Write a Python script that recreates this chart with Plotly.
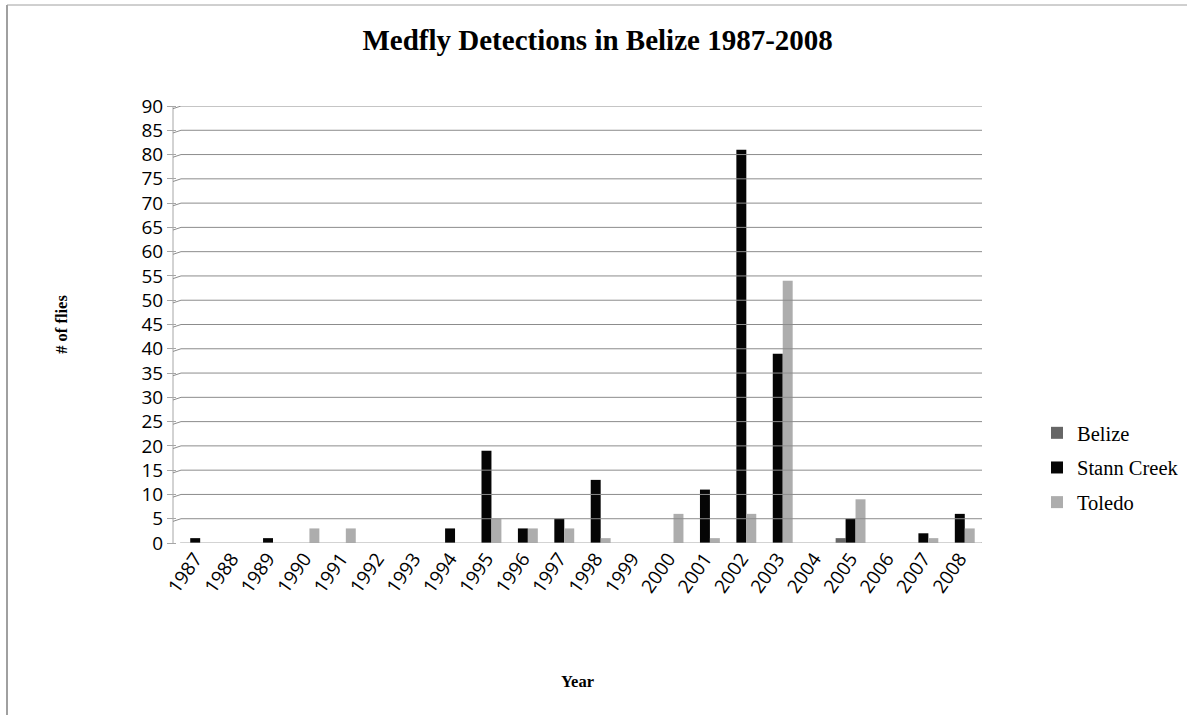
import plotly.graph_objects as go

years = [str(y) for y in range(1987, 2009)]
belize = [0, 0, 0, 0, 0, 0, 0, 0, 0, 0, 0, 0, 0, 0, 0, 0, 0, 0, 1, 0, 0, 0]
stann_creek = [1, 0, 1, 0, 0, 0, 0, 3, 19, 3, 5, 13, 0, 0, 11, 81, 39, 0, 5, 0, 2, 6]
toledo = [0, 0, 0, 3, 3, 0, 0, 0, 5, 3, 3, 1, 0, 6, 1, 6, 54, 0, 9, 0, 1, 3]
y_ticks = list(range(0, 95, 5))

W, H = 1187, 715
L, R, T, B = 177, 209, 106, 172
pw, ph = W - L - R, H - T - B

def px_x(px):
    return (px - L) / pw

def px_y(py):
    return (H - B - py) / ph

fig = go.Figure()
series = [("Belize", belize, "#666666"),
          ("Stann Creek", stann_creek, "#050505"),
          ("Toledo", toledo, "#adadad")]
for name, vals, col in series:
    fig.add_trace(go.Bar(x=years, y=vals, name=name, legendgroup=name,
                         marker=dict(color=col, line=dict(width=0))))

shapes = []
# value axis line sits slightly in front of the back wall
shapes.append(dict(type="line", xref="paper", yref="y",
                   x0=px_x(173), x1=px_x(173), y0=-0.55, y1=90,
                   line=dict(color="#a6a6a6", width=1)))
# back-wall gridlines with the short slanted lead-in from the axis
for v in y_ticks:
    shapes.append(dict(type="line", xref="paper", yref="y",
                       x0=px_x(173), x1=px_x(181), y0=v - 0.55, y1=v,
                       line=dict(color="#8c8c8c", width=1)))
    if v > 0:
        shapes.append(dict(type="line", xref="paper", yref="y",
                           x0=px_x(181), x1=px_x(982), y0=v, y1=v,
                           line=dict(color="#8c8c8c", width=1)))
# floor
shapes.append(dict(type="line", xref="paper", yref="y",
                   x0=px_x(181), x1=px_x(982), y0=0, y1=0,
                   line=dict(color="#a6a6a6", width=1)))
shapes.append(dict(type="line", xref="paper", yref="y",
                   x0=px_x(173), x1=px_x(975), y0=-0.55, y1=-0.55,
                   line=dict(color="#a6a6a6", width=1)))
shapes.append(dict(type="line", xref="paper", yref="y",
                   x0=px_x(982), x1=px_x(975), y0=0, y1=-0.55,
                   line=dict(color="#a6a6a6", width=1)))
# chart frame
shapes.append(dict(type="line", xref="paper", yref="paper",
                   x0=px_x(7), x1=px_x(7), y0=px_y(5), y1=px_y(715),
                   line=dict(color="#a0a0a0", width=2)))
shapes.append(dict(type="line", xref="paper", yref="paper",
                   x0=px_x(7), x1=px_x(1187), y0=px_y(5), y1=px_y(5),
                   line=dict(color="#a0a0a0", width=1)))

fig.update_layout(
    width=W, height=H,
    margin=dict(l=L, r=R, t=T, b=B, autoexpand=False),
    paper_bgcolor="white", plot_bgcolor="white",
    barmode="group", bargap=0.18, bargroupgap=0,
    shapes=shapes,
    title=dict(text="<b>Medfly Detections in Belize 1987-2008</b>",
               x=0.5035, xanchor="center", y=1 - 40 / H, yanchor="middle",
               font=dict(family="Liberation Serif", size=29, color="black")),
    font=dict(family="Open Sans", color="black"),
    legend=dict(x=px_x(1037), xanchor="left", y=px_y(413), yanchor="top",
                traceorder="grouped",
                font=dict(family="Liberation Serif", size=20.5, color="black"),
                tracegroupgap=5, itemwidth=30, bgcolor="rgba(0,0,0,0)"),
    showlegend=True,
)
fig.update_xaxes(type="category", showgrid=False, showline=False,
                 ticks="", tickangle=-55,
                 tickfont=dict(family="Open Sans", size=19, color="black"),
                 title=dict(text="<b>Year</b>", standoff=78,
                            font=dict(family="Liberation Serif", size=16.5, color="black")))
fig.update_yaxes(range=[0, 90], tickvals=y_ticks, showgrid=False,
                 showline=False,
                 ticks="outside", ticklen=9, tickcolor="#a6a6a6",
                 zeroline=False,
                 tickfont=dict(family="Open Sans", size=19, color="black"),
                 title=dict(text="<b># of flies</b>", standoff=69,
                            font=dict(family="Liberation Serif", size=16.5, color="black")))

fig.write_html("out.html")
